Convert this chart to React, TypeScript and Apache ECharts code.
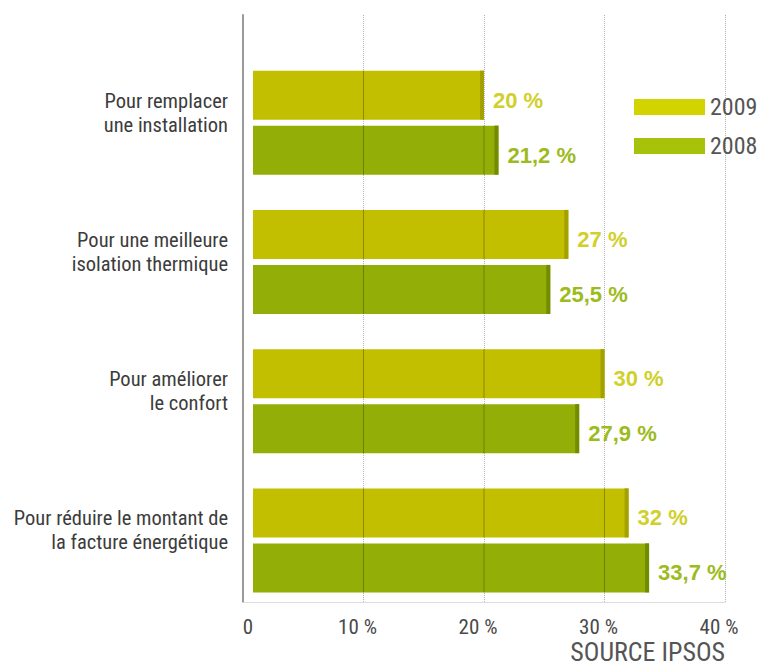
import React, { useEffect, useRef } from "react";
import * as echarts from "echarts";

const categories = [
  "Pour remplacer\nune installation",
  "Pour une meilleure\nisolation thermique",
  "Pour améliorer\nle confort",
  "Pour réduire le montant de\nla facture énergétique",
];
const values2009 = [20, 27, 30, 32];
const values2008 = [21.2, 25.5, 27.9, 33.7];
const labels2009 = ["20 %", "27 %", "30 %", "32 %"];
const labels2008 = ["21,2 %", "25,5 %", "27,9 %", "33,7 %"];
const seriesNames = ["2009", "2008"];
const tickValues = [0, 10, 20, 30, 40];

const NARROW = "'Roboto Condensed', 'Liberation Sans Narrow', 'Arial Narrow', sans-serif";
const BOLD = "'Liberation Sans', Arial, sans-serif";

const barFill = ["#c2be00", "#93ae06"];
const barShade = ["#a3a000", "#728c00"];
const legendFill = ["#d3d300", "#a6c20a"];
const labelFill = ["#d0d02a", "#9cbb1c"];

function makeRender(s: number, labels: string[]) {
  return (params: any, api: any) => {
    const cat = api.value(0);
    const val = api.value(1);
    const c = api.coord([0, cat]);
    const e = api.coord([val, cat]);
    const bh = 49;
    const top = s === 0 ? c[1] - 52 : c[1] + 3;
    const x0 = c[0] + 10;
    const x1 = e[0];
    const children: any[] = [
      {
        type: "rect",
        shape: { x: x0, y: top, width: x1 - x0, height: bh },
        style: { fill: barFill[s] },
      },
      {
        type: "rect",
        shape: { x: x1 - 4, y: top, width: 4, height: bh },
        style: { fill: barShade[s] },
      },
    ];
    tickValues.forEach((t) => {
      if (t > 0 && t < val - 0.3) {
        const gx = api.coord([t, cat])[0];
        children.push({
          type: "line",
          shape: { x1: gx, y1: top, x2: gx, y2: top + bh },
          style: { stroke: "rgba(70,70,0,0.45)", lineWidth: 1 },
        });
      }
    });
    children.push({
      type: "text",
      x: x1 + 9,
      y: top + bh / 2 + 5,
      style: {
        text: labels[params.dataIndex],
        fill: labelFill[s],
        font: `bold 22px ${BOLD}`,
        verticalAlign: "middle",
        align: "left",
      },
    });
    return { type: "group", children };
  };
}

export default function App() {
  const ref = useRef<HTMLDivElement>(null);
  useEffect(() => {
    if (!ref.current) return;
    const chart = echarts.init(ref.current, null, { renderer: "svg" });
    chart.setOption({
      animation: false,
      backgroundColor: "#ffffff",
      legend: {
        orient: "vertical",
        left: 629,
        top: 90,
        itemWidth: 71,
        itemHeight: 16,
        itemGap: 15,
        icon: "rect",
        data: seriesNames.map((n, i) => ({
          name: n,
          itemStyle: { color: legendFill[i] },
        })),
        textStyle: {
          fontFamily: NARROW,
          fontSize: 24,
          lineHeight: 16,
          color: "#555555",
        },
        selectedMode: false,
      },
      grid: [
        { left: 243, top: 15, width: 482, height: 587, outerBoundsMode: "none", containLabel: false },
        { left: 243, top: 53, width: 482, height: 557, outerBoundsMode: "none", containLabel: false },
      ],
      xAxis: [
        {
          type: "value",
          gridIndex: 0,
          min: 0,
          max: 40,
          interval: 10,
          axisLine: { show: true, lineStyle: { color: "#dddddd", width: 1 } },
          axisTick: { show: false },
          axisLabel: {
            margin: 14,
            color: "#4a4a4a",
            fontSize: 21,
            fontFamily: NARROW,
            formatter: (v: number) => (v === 0 ? "{z|0}" : `{p|${v} %}`),
            rich: {
              z: { padding: [0, 0, 0, 10], fontSize: 21, fontFamily: NARROW, color: "#4a4a4a" },
              p: { padding: [0, 12, 0, 0], fontSize: 21, fontFamily: NARROW, color: "#4a4a4a" },
            },
          },
          splitLine: {
            show: true,
            lineStyle: { color: "#b0b0b0", type: "dotted", width: 1 },
          },
        },
        {
          type: "value",
          gridIndex: 1,
          min: 0,
          max: 40,
          show: false,
        },
      ],
      yAxis: [
        {
          type: "category",
          gridIndex: 0,
          data: categories,
          inverse: true,
          axisLine: { show: true, lineStyle: { color: "#9a9a9a", width: 2 } },
          axisTick: { show: false },
          axisLabel: { show: false },
          splitLine: { show: false },
        },
        {
          type: "category",
          gridIndex: 1,
          data: categories,
          inverse: true,
          axisLine: { show: false },
          axisTick: { show: false },
          axisLabel: {
            margin: 15,
            align: "right",
            formatter: (v: string) =>
              v.split("\n").map((l) => `{a|${l}}`).join("\n") + "\n{s| }",
            rich: {
              a: {
                fontSize: 20.5,
                lineHeight: 24,
                fontFamily: NARROW,
                color: "#3c3c3c",
                align: "right",
              },
              s: { fontSize: 8, lineHeight: 20 },
            },
          },
        },
      ],
      series: [
        {
          type: "custom",
          name: seriesNames[0],
          xAxisIndex: 1,
          yAxisIndex: 1,
          itemStyle: { color: legendFill[0] },
          encode: { x: 1, y: 0 },
          data: values2009.map((v, i) => [i, v]),
          renderItem: makeRender(0, labels2009),
          z: 5,
        },
        {
          type: "custom",
          name: seriesNames[1],
          xAxisIndex: 1,
          yAxisIndex: 1,
          itemStyle: { color: legendFill[1] },
          encode: { x: 1, y: 0 },
          data: values2008.map((v, i) => [i, v]),
          renderItem: makeRender(1, labels2008),
          z: 5,
        },
      ],
      graphic: [
        {
          type: "text",
          right: 35,
          top: 639,
          style: {
            text: "SOURCE IPSOS",
            fill: "#555555",
            font: `26px ${NARROW}`,
          },
        },
      ],
    });
    return () => chart.dispose();
  }, []);
  return (
    <div
      ref={ref}
      style={{ position: "fixed", left: 0, top: 0, width: 760, height: 668 }}
    />
  );
}
